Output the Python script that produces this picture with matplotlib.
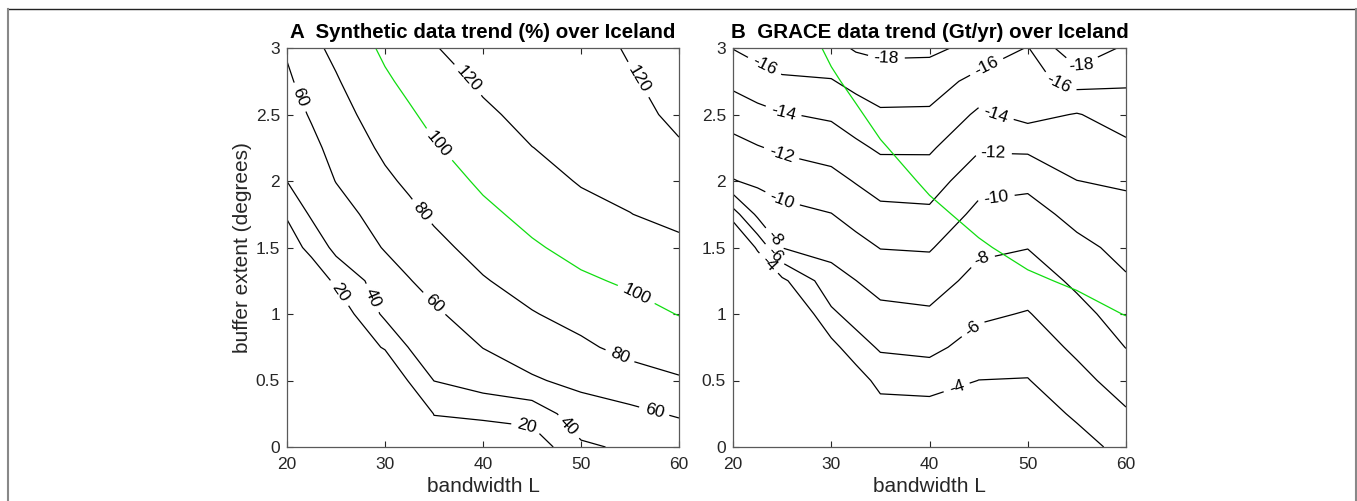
import numpy as np
import matplotlib
matplotlib.use("Agg")
import matplotlib.pyplot as plt
from matplotlib.lines import Line2D

plt.rcParams["font.family"] = ["Liberation Sans", "DejaVu Sans"]

# ===== grid (bandwidth L x buffer extent) =====
L_VALUES = [20, 22.5, 25, 30, 32.5, 35, 40, 45, 50, 55, 60]
BUFFER_VALUES = [0.0, 0.25, 0.5, 0.75, 1.0, 1.25, 1.5, 1.75, 2.0, 2.25, 2.5, 2.75, 3.0]

# synthetic data trend (%), one list per L column, buffer 0 -> 3
SYNTH_TREND = [
    [0, 1, 2, 3, 5, 8, 12, 21.5, 40.2, 45.7, 51.2, 56.7, 62.2],
    [0, 1, 2, 3, 5, 9, 24.6, 43, 49, 55.1, 61.9, 68.8, 75.6],
    [0, 1, 2, 4, 6, 23, 46, 51.8, 60.5, 66.4, 72.4, 78.3, 84.3],
    [0, 1, 2, 21.5, 44, 51.8, 61.2, 68.9, 76.6, 83.7, 90.4, 97.1, 103.7],
    [1, 1, 21.5, 41.1, 50.2, 59.3, 67.5, 75.7, 83.4, 90.5, 97.6, 104.7, 111.8],
    [10, 20.5, 40.3, 48.8, 57.3, 66.0, 74.7, 83.0, 90.6, 98.2, 105.3, 112.2, 119.2],
    [12, 22, 51, 60.3, 69.3, 78.5, 87.1, 95.6, 103.3, 110.1, 117.0, 122.8, 127],
    [7, 28, 58, 68.6, 78.8, 88.3, 97.7, 105.5, 112.8, 119.8, 125, 129, 132],
    [37, 51.4, 64.7, 76.3, 86.9, 97.1, 105.9, 114.1, 121.4, 125, 127, 128, 129],
    [43, 55.8, 70.9, 86, 93.5, 102.7, 111, 119.8, 123, 125, 124.5, 122, 117.8],
    [47, 61.9, 78.1, 89.8, 100.6, 108.6, 117.5, 123, 124, 121.5, 116.8, 112, 108],
]

# GRACE data trend (Gt/yr), one list per L column, buffer 0 -> 3
GRACE_TREND = [
    [1.0, 1.0, 0.9, 0.8, 0.6, 0.3, 0.0, -5.11, -9.9, -11.35, -12.88, -14.45, -16.06],
    [1.0, 0.9, 0.7, 0.5, 0.2, -0.5, -4.42, -8.43, -10.41, -11.88, -13.44, -15.07, -16.73],
    [1.0, 0.8, 0.5, 0.0, -1.0, -3.56, -8.05, -9.41, -10.82, -12.31, -13.88, -15.64, -17.43],
    [0.5, -0.2, -1.1, -3.36, -5.64, -7.24, -8.63, -9.95, -11.37, -12.82, -14.31, -15.88, -17.4],
    [-1.2, -1.9, -2.96, -5.13, -6.75, -7.98, -9.35, -10.72, -12.12, -13.59, -15.06, -16.58, -18.2],
    [-2.5, -3.0, -4.67, -6.24, -7.46, -8.74, -10.06, -11.44, -12.86, -14.29, -15.71, -17.08, -18.43],
    [-2.2, -3.04, -4.89, -6.49, -7.71, -8.93, -10.17, -11.60, -12.95, -14.28, -15.67, -17.03, -18.38],
    [-1.62, -2.81, -3.98, -5.19, -6.33, -7.35, -8.38, -9.45, -10.73, -12.23, -13.66, -15.31, -17.48],
    [-1.96, -2.94, -3.92, -4.90, -5.88, -6.96, -8.05, -9.18, -10.50, -12.36, -14.6, -15.3, -15.9],
    [-3.23, -4.30, -5.36, -6.39, -7.37, -8.38, -9.45, -10.65, -11.98, -12.94, -13.89, -16.71, -19.7],
    [-4.64, -5.77, -6.91, -8.04, -8.91, -9.79, -10.59, -11.375, -12.26, -13.58, -14.92, -16.27, -17.63],
]

SYNTH_LEVELS = [20, 40, 60, 80, 120]
TARGET_LEVEL = [100]
GRACE_LEVELS = [-18, -16, -14, -12, -10, -8, -6, -4]

X_TICKS = [20, 30, 40, 50, 60]
Y_TICKS = [0, 0.5, 1, 1.5, 2, 2.5, 3]
Y_TICK_LABELS = ["0", "0.5", "1", "1.5", "2", "2.5", "3"]

TITLE_A = "A  Synthetic data trend (%) over Iceland"
TITLE_B = "B  GRACE data trend (Gt/yr) over Iceland"

# ===== label placement (L, buffer) =====
SYNTH_LABEL_POS = [(21.3, 2.63), (34.9, 1.07), (57.4, 0.25), (25.4, 1.16), (44.5, 0.18),
                   (28.1, 1.10), (48.4, 0.13), (33.6, 1.76), (54.0, 0.69),
                   (38.3, 2.75), (55.8, 2.76)]
TARGET_LABEL_POS = [(35.3, 2.26), (55.3, 1.10)]
GRACE_LABEL_POS = [(23.1, 2.85), (46.2, 2.80), (53.3, 2.76), (35.6, 2.91), (55.5, 2.86),
                   (25.1, 2.51), (46.8, 2.51), (24.8, 2.18), (46.5, 2.23),
                   (24.8, 1.83), (46.8, 1.87), (24.1, 1.56), (45.3, 1.41),
                   (24.4, 1.46), (44.1, 0.92), (23.6, 1.38), (42.8, 0.44)]

GREEN = "#10dd10"
AX_COLOR = "0.15"
W, H = 1357, 501


def style_axes(ax):
    ax.set_xlim(20, 60)
    ax.set_ylim(0, 3)
    ax.set_xticks(X_TICKS)
    ax.set_yticks(Y_TICKS)
    ax.set_yticklabels(Y_TICK_LABELS)
    ax.tick_params(direction="in", top=True, right=True, length=4, width=0.8,
                   colors=AX_COLOR, labelsize=12.5)
    ax.tick_params(axis="x", pad=7)
    ax.tick_params(axis="y", pad=5)
    for sp in ax.spines.values():
        sp.set_color("0.35")
        sp.set_linewidth(0.9)
    ax.set_xlabel("bandwidth L", fontsize=15, color=AX_COLOR, labelpad=4)


def main():
    L = np.array(L_VALUES, dtype=float)
    B = np.array(BUFFER_VALUES, dtype=float)
    zs = np.array(SYNTH_TREND, dtype=float).T
    zg = np.array(GRACE_TREND, dtype=float).T

    fig = plt.figure(figsize=(W / 100, H / 100), dpi=100)
    ax_a = fig.add_axes([287 / W, 54 / H, 392 / W, 399 / H])
    ax_b = fig.add_axes([733 / W, 54 / H, 393 / W, 399 / H])

    # ----- panel A -----
    cs = ax_a.contour(L, B, zs, levels=SYNTH_LEVELS, colors="k", linewidths=0.9,
                      linestyles="solid")
    ax_a.clabel(cs, fmt="%d", fontsize=12.5, colors="k", inline=True,
                inline_spacing=6, manual=SYNTH_LABEL_POS)
    cg = ax_a.contour(L, B, zs, levels=TARGET_LEVEL, colors=GREEN, linewidths=0.9)
    ax_a.clabel(cg, fmt="%d", fontsize=12.5, colors="k", inline=True,
                inline_spacing=6, manual=TARGET_LABEL_POS)
    style_axes(ax_a)
    ax_a.set_ylabel("buffer extent (degrees)", fontsize=15, color=AX_COLOR, labelpad=3)
    ax_a.set_title(TITLE_A, fontsize=14.8, fontweight="bold", pad=7)

    # ----- panel B -----
    cs = ax_b.contour(L, B, zg, levels=GRACE_LEVELS, colors="k", linewidths=0.9,
                      linestyles="solid")
    ax_b.clabel(cs, fmt="%d", fontsize=12.5, colors="k", inline=True,
                inline_spacing=6, manual=GRACE_LABEL_POS)
    ax_b.contour(L, B, zs, levels=TARGET_LEVEL, colors=GREEN, linewidths=0.9)
    style_axes(ax_b)
    ax_b.set_title(TITLE_B, fontsize=14.8, fontweight="bold", pad=7)

    # frame around the figure
    top = 1 - 9.3 / H
    fig.add_artist(Line2D([7.5 / W, 1355.5 / W], [top, top], transform=fig.transFigure,
                          color="#222222", lw=1.0))
    for xx in (7.5, 1355.5):
        fig.add_artist(Line2D([xx / W, xx / W], [0, top], transform=fig.transFigure,
                              color="#888888", lw=1.5))

    fig.savefig("out.png", dpi=100)
    plt.close(fig)


if __name__ == "__main__":
    main()
